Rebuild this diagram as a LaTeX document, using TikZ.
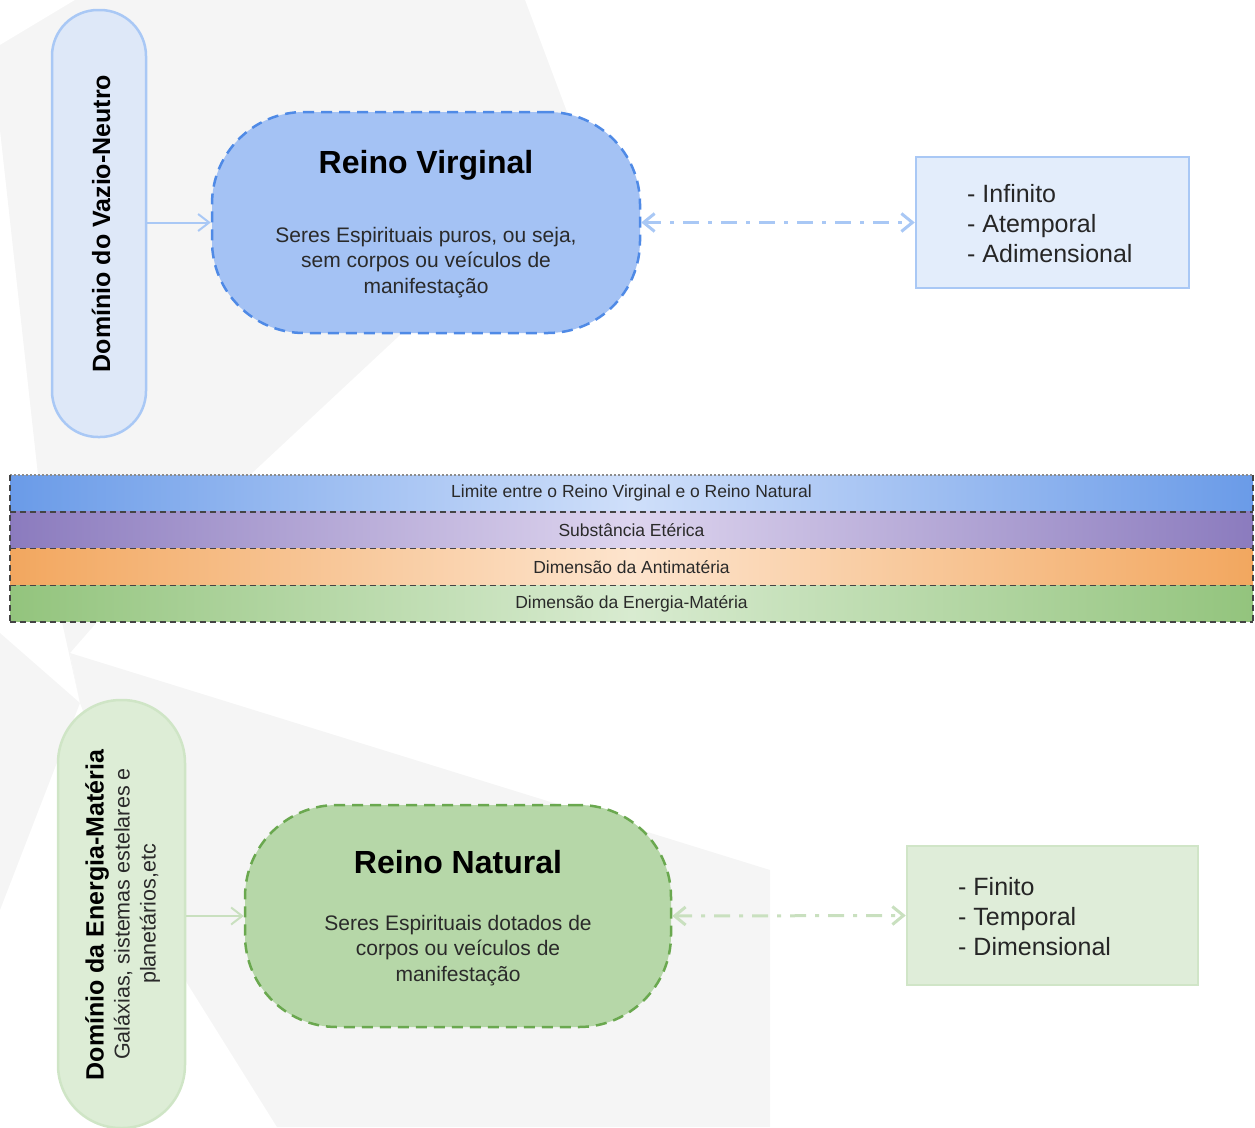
\documentclass[tikz,border=0pt]{standalone}
\usepackage{fontspec}
\setmainfont{Liberation Sans}
\usetikzlibrary{arrows.meta}
\definecolor{bggray}{HTML}{F5F5F5}
\definecolor{pillbluefill}{HTML}{DEE8F8}
\definecolor{pillblueline}{HTML}{A9C8F5}
\definecolor{rvfill}{HTML}{A4C2F4}
\definecolor{rvline}{HTML}{4F8AE6}
\definecolor{boxbluefill}{HTML}{E3EDFB}
\definecolor{pillgreenfill}{HTML}{DDEDD6}
\definecolor{pillgreenline}{HTML}{CFE5C6}
\definecolor{rnfill}{HTML}{B6D7A8}
\definecolor{rnline}{HTML}{6AA84F}
\definecolor{boxgreenfill}{HTML}{DFEDD9}
\definecolor{boxgreenline}{HTML}{D0E5C7}
\definecolor{greenarrow}{HTML}{C9E0BF}
\definecolor{bodytext}{HTML}{2A2A2A}
\definecolor{bandline}{HTML}{444444}
\definecolor{bandA}{HTML}{6A9BE8}\definecolor{bandAm}{HTML}{CFDFFA}
\definecolor{bandB}{HTML}{8B7BBE}\definecolor{bandBm}{HTML}{DDD4EE}
\definecolor{bandC}{HTML}{F2A75F}\definecolor{bandCm}{HTML}{FDE4CD}
\definecolor{bandD}{HTML}{93C47D}\definecolor{bandDm}{HTML}{D8EBD0}
\tikzset{
  pillshape/.style={draw, line width=2.5pt, inner sep=0pt},
  kingdom/.style={draw, line width=2.5pt, dash pattern=on 11pt off 7pt, inner sep=0pt, rounded corners=92pt},
  listbox/.style={draw, line width=2.5pt, inner sep=0pt},
  titletext/.style={font=\bfseries\fontsize{32}{38}\selectfont, text=black, inner sep=0pt},
  bodyfont/.style={font=\fontsize{21}{25.5}\selectfont, text=bodytext, align=center, inner sep=0pt},
  listtext/.style={font=\fontsize{25}{30}\selectfont, text=black!85, align=left, anchor=west, inner sep=0pt},
  bandbox/.style={minimum width=1243pt, minimum height=36.75pt, inner sep=0pt, font=\fontsize{17.5}{20}\selectfont, text=bodytext},
  solidarrow/.style={line width=2pt, -{Straight Barb[length=11pt,width=17pt]}},
  dasharrow/.style={line width=3pt, dash pattern=on 16pt off 9pt on 4pt off 9pt, {Straight Barb[length=11pt,width=18pt]}-{Straight Barb[length=11pt,width=18pt]}},
  bandsep/.style={draw=bandline, line width=1.5pt, dash pattern=on 6pt off 4pt}
}
\begin{document}
\begin{tikzpicture}[x=1pt,y=-1pt]
\useasboundingbox (0,0) rectangle (1255,1127);
% background shapes
\fill[bggray] (0,45) -- (75,0) -- (525,0) -- (570,120) -- (400,335) -- (250,475) -- (38,475) -- (0,130) -- cycle;
\fill[bggray] (0,633) -- (80,703) -- (0,910) -- cycle;
\fill[bggray] (62,622) -- (97,622) -- (70,653) -- (80,703) -- cycle;
\fill[bggray] (70,653) -- (770,870) -- (770,1127) -- (277,1127) -- (187,983) -- (80,703) -- cycle;

% top part
\node[pillshape, draw=pillblueline, fill=pillbluefill, minimum width=94pt, minimum height=427pt, rounded corners=46pt] (dvn) at (99,223.5) {};
\node[rotate=90, font=\bfseries\fontsize{25}{30}\selectfont, inner sep=0pt] (dvntext) at (101,223.5) {Domínio do Vazio-Neutro};

\node[kingdom, draw=rvline, fill=rvfill, minimum width=428pt, minimum height=221pt] (rv) at (426,222.5) {};
\node[titletext] (rvtitle) at (426,165) {Reino Virginal};
\node[bodyfont] (rvbody) at (426,262.5) {Seres Espirituais puros, ou seja,\\sem corpos ou veículos de\\manifestação};

\node[listbox, draw=pillblueline, fill=boxbluefill, minimum width=273pt, minimum height=131pt] (bb) at (1052.5,222.5) {};
\node[listtext] (bbtext) at (967,224) {- Infinito\\- Atemporal\\- Adimensional};

\draw[solidarrow, pillblueline] (dvn.east |- rv.west) -- (rv.west);
\draw[dasharrow, pillblueline] (rv.east) -- (bb.west);

% bands
\node[bandbox, left color=bandA, right color=bandA, middle color=bandAm] (b1) at (631.5,493.4) {Limite entre o Reino Virginal e o Reino Natural};
\node[bandbox, left color=bandB, right color=bandB, middle color=bandBm] (b2) at (631.5,530.1) {Substância Etérica};
\node[bandbox, left color=bandC, right color=bandC, middle color=bandCm] (b3) at (631.5,566.9) {Dimensão da Antimatéria};
\node[bandbox, left color=bandD, right color=bandD, middle color=bandDm] (b4) at (631.5,603.6) {Dimensão da Energia-Matéria};
\draw[draw=black!45, line width=1.5pt, dash pattern=on 2pt off 2pt] (b1.north west) -- (b1.north east);
\draw[bandsep] (b1.south west) -- (b1.south east);
\draw[bandsep] (b2.south west) -- (b2.south east);
\draw[bandsep] (b3.south west) -- (b3.south east);
\draw[bandsep] (b4.south west) -- (b4.south east);
\draw[bandsep] (b1.north west) -- (b4.south west);
\draw[bandsep] (b1.north east) -- (b4.south east);

% bottom part
\node[pillshape, draw=pillgreenline, fill=pillgreenfill, minimum width=127pt, minimum height=428pt, rounded corners=63pt] (dem) at (121.5,914) {};
\node[rotate=90, font=\bfseries\fontsize{25}{30}\selectfont, inner sep=0pt] (demtitle) at (97,915) {Domínio da Energia-Matéria};
\node[rotate=90, font=\fontsize{21.5}{26}\selectfont, align=center, text=bodytext, inner sep=0pt] (demtext) at (137,914) {Galáxias,  sistemas estelares e\\planetários,etc};

\node[kingdom, draw=rnline, fill=rnfill, minimum width=426pt, minimum height=222pt] (rn) at (458,916) {};
\node[titletext] (rntitle) at (458,862) {Reino Natural};
\node[bodyfont] (rnbody) at (458,950.5) {Seres Espirituais dotados de\\corpos ou veículos de\\manifestação};

\node[listbox, draw=boxgreenline, fill=boxgreenfill, minimum width=291pt, minimum height=139pt] (gb) at (1052.5,915.5) {};
\node[listtext] (gbtext) at (958,917) {- Finito\\- Temporal\\- Dimensional};

\draw[solidarrow, greenarrow] (dem.east |- rn.west) -- (rn.west);
\draw[dasharrow, greenarrow] (rn.east) -- (gb.west);
\end{tikzpicture}
\end{document}
